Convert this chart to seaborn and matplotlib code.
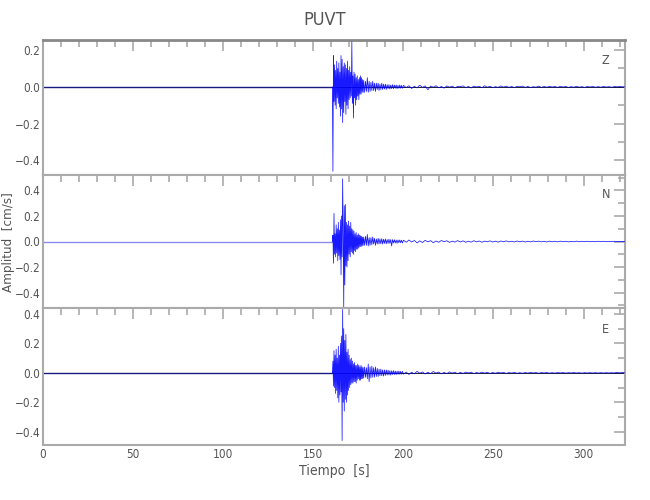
import numpy as np
import pandas as pd
import matplotlib
matplotlib.use("Agg")
import matplotlib.pyplot as plt
import seaborn as sns
from matplotlib.ticker import MultipleLocator

# ---------------- data ----------------
title = "PUVT"
channels = ["Z", "N", "E"]
x_label = "Tiempo  [s]"
y_label = "Amplitud  [cm/s]"

onset = 160.6            # s, first arrival
burst_step = 0.3         # s, spacing of the read peaks during the burst
mid_start, mid_step = 178.0, 0.5
coda_start, coda_step = 200.1, 1.5
t_end = 323.0

z_burst = [0.0, -0.46, 0.17, -0.08, 0.12, -0.10, 0.09, -0.12, 0.14, -0.06,
           0.10, -0.09, 0.13, -0.11, 0.08, -0.16, 0.17, -0.12, 0.15, -0.195,
           0.11, -0.14, 0.13, -0.08, 0.12, -0.15, 0.10, -0.10, 0.14, -0.12,
           0.09, -0.07, 0.11, -0.06, 0.08, -0.05, 0.245, -0.09, 0.06, -0.17,
           0.08, -0.06, 0.07, -0.10, 0.05, -0.07, 0.06, -0.05, 0.04, -0.07,
           0.05, -0.04, 0.06, -0.04, 0.05, -0.03, 0.04, -0.03]
z_mid = [0.035, -0.03, 0.03, -0.025, 0.05, -0.03, 0.03, -0.025, 0.025, -0.02,
         0.03, -0.02, 0.02, -0.025, 0.02, -0.015, 0.02, -0.02, 0.015, -0.015,
         0.02, -0.015, 0.015, -0.012, 0.015, -0.015, 0.012, -0.01, 0.012, -0.012,
         0.01, -0.01, 0.012, -0.01, 0.01, -0.008, 0.01, -0.01, 0.008, -0.008,
         0.01, -0.008, 0.008, -0.008]
z_coda = [0.008, -0.004, 0.006, -0.009, 0.003, -0.006, 0.009, -0.003, 0.005, -0.016,
          0.004, -0.002, 0.006, -0.005, 0.002, -0.007, 0.005, -0.002, 0.004, -0.006,
          0.003, 0.001, 0.005, -0.004, 0.002, -0.006, 0.004, -0.001, 0.003, -0.005,
          0.006, -0.002, 0.003, -0.004, 0.001, -0.003, 0.005, -0.002, 0.004, -0.003,
          0.002, -0.004, 0.003, 0.000, 0.004, -0.003, 0.002, -0.004, 0.001, -0.002,
          0.004, -0.003, 0.002, -0.002, 0.003, -0.001, 0.002, -0.003, 0.003, -0.001,
          0.002, -0.003, 0.001, -0.002, 0.003, -0.002, 0.001, -0.003, 0.002, -0.001,
          0.002, -0.002, 0.001, -0.002, 0.002, -0.001, 0.001, -0.002, 0.001, -0.001,
          0.001, -0.001]

n_burst = [0.0, 0.05, -0.17, 0.22, -0.10, 0.06, -0.12, 0.13, -0.09, 0.10,
           -0.15, 0.15, -0.11, 0.09, -0.14, 0.17, -0.26, 0.20, -0.12, 0.49,
           0.05, -0.51, 0.28, -0.34, 0.29, -0.19, 0.15, -0.20, 0.13, -0.15,
           0.16, -0.10, 0.12, -0.12, 0.15, -0.08, 0.10, -0.09, 0.09, -0.10,
           0.08, -0.07, 0.06, -0.08, 0.07, -0.06, 0.05, -0.06, 0.06, -0.05,
           0.05, -0.04, 0.045, -0.04, 0.04, -0.035, 0.035, -0.03]
n_mid = [0.035, -0.03, 0.04, -0.03, 0.055, -0.035, 0.03, -0.03, 0.03, -0.025,
         0.035, -0.02, 0.025, -0.03, 0.02, -0.02, 0.025, -0.02, 0.02, -0.018,
         0.022, -0.02, 0.018, -0.015, 0.02, -0.018, 0.015, -0.015, 0.018, -0.015,
         0.015, -0.035, 0.015, -0.012, 0.014, -0.012, 0.012, -0.014, 0.012, -0.01,
         0.012, -0.01, 0.01, -0.012]
n_coda = [0.010, -0.006, 0.012, -0.004, 0.008, -0.011, 0.005, -0.008, 0.009, -0.003,
          0.007, -0.010, 0.004, -0.006, 0.008, -0.002, 0.006, -0.007, 0.003, -0.005,
          0.007, -0.004, 0.005, -0.006, 0.002, -0.005, 0.006, -0.003, 0.004, -0.006,
          0.003, -0.002, 0.005, -0.004, 0.003, -0.005, 0.004, -0.002, 0.005, -0.003,
          0.002, -0.004, 0.004, -0.002, 0.003, -0.004, 0.002, -0.003, 0.004, -0.001,
          0.003, -0.003, 0.002, -0.004, 0.003, -0.002, 0.002, -0.003, 0.003, -0.002,
          0.002, -0.003, 0.001, -0.002, 0.003, -0.002, 0.002, -0.001, 0.002, -0.002,
          0.001, -0.002, 0.002, -0.001, 0.002, -0.002, 0.001, -0.001, 0.002, -0.001,
          0.001, -0.001]

e_burst = [0.0, 0.08, -0.09, 0.15, -0.10, 0.12, -0.14, 0.16, -0.12, 0.10,
           -0.17, 0.18, -0.20, 0.12, -0.15, 0.20, -0.13, 0.25, -0.46, 0.43,
           -0.20, 0.30, -0.26, 0.22, -0.18, 0.26, -0.20, 0.14, -0.15, 0.16,
           -0.12, 0.12, -0.10, 0.09, -0.08, 0.10, -0.07, 0.08, -0.07, 0.06,
           -0.06, 0.07, -0.06, 0.05, -0.07, 0.05, -0.05, 0.06, -0.04, 0.05,
           -0.05, 0.04, -0.05, 0.05, -0.04, 0.04, -0.04, 0.035]
e_mid = [-0.035, 0.04, -0.03, 0.035, -0.04, 0.06, -0.06, 0.04, -0.035, 0.045,
         -0.03, 0.035, -0.03, 0.04, -0.025, 0.03, -0.025, 0.025, -0.02, 0.025,
         -0.02, 0.02, -0.022, 0.02, -0.018, 0.02, -0.015, 0.018, -0.015, 0.015,
         -0.016, 0.014, -0.012, 0.015, -0.012, 0.012, -0.012, 0.011, -0.01, 0.012,
         -0.01, 0.01, -0.01, 0.01]
e_coda = [-0.009, 0.005, -0.011, 0.004, -0.007, 0.010, -0.003, 0.006, -0.008, 0.004,
          -0.006, 0.009, -0.002, 0.005, -0.007, 0.003, -0.005, 0.006, -0.002, 0.004,
          -0.006, 0.003, -0.004, 0.005, -0.001, 0.004, -0.005, 0.002, -0.003, 0.005,
          -0.002, 0.003, -0.004, 0.002, -0.003, 0.004, -0.001, 0.003, -0.004, 0.002,
          -0.002, 0.003, -0.003, 0.001, -0.003, 0.002, -0.002, 0.003, -0.001, 0.002,
          -0.003, 0.002, -0.001, 0.002, -0.002, 0.001, -0.002, 0.002, -0.001, 0.002,
          -0.002, 0.001, -0.001, 0.002, -0.001, 0.001, -0.002, 0.001, -0.001, 0.001,
          -0.001, 0.001, -0.001, 0.001, -0.001, 0.001, -0.001, 0.001, -0.001, 0.001,
          -0.001, 0.001]

traces = {"Z": (z_burst, z_mid, z_coda),
          "N": (n_burst, n_mid, n_coda),
          "E": (e_burst, e_mid, e_coda)}

y_limits = {"Z": (-0.48, 0.255), "N": (-0.52, 0.52), "E": (-0.49, 0.44)}
y_ticks = {"Z": [-0.4, -0.2, 0.0, 0.2],
           "N": [-0.4, -0.2, 0.0, 0.2, 0.4],
           "E": [-0.4, -0.2, 0.0, 0.2, 0.4]}
x_ticks = [0, 50, 100, 150, 200, 250, 300]
x_limits = (0, 323)


def build(ch):
    burst, mid, coda = traces[ch]
    t = [0.0]
    a = [0.0]
    t += list(onset + burst_step * np.arange(len(burst)))
    a += burst
    t += list(mid_start + mid_step * np.arange(len(mid)))
    a += mid
    t += list(coda_start + coda_step * np.arange(len(coda)))
    a += coda
    t.append(t_end)
    a.append(0.0)
    return pd.DataFrame({"t": t, "amp": a})


# ---------------- style ----------------
sns.set_theme(style="white")
plt.rcParams["font.family"] = ["DejaVu Sans"]
plt.rcParams["font.stretch"] = "condensed"
plt.rcParams["axes.unicode_minus"] = True

spine_gray = "#aaaaaa"
text_gray = "#555555"
pre_colors = {"Z": "#1a1a80", "N": "#8a8aee", "E": "#1a1a80"}

fig = plt.figure(figsize=(6.5, 5.0), dpi=100)
left, width = 43 / 650, (625 - 43) / 650
panel_px = {"Z": (40, 175), "N": (175, 308), "E": (308, 445)}

for ch in channels:
    top, bot = panel_px[ch]
    ax = fig.add_axes([left, 1 - bot / 500, width, (bot - top) / 500])
    df = build(ch)
    pre = df.iloc[:2]
    post = df.iloc[1:]
    if ch != "N":
        ax.axhline(0, color="black", lw=0.6, zorder=1)
    sns.lineplot(data=pre, x="t", y="amp", ax=ax, color=pre_colors[ch],
                 lw=1.0, estimator=None, sort=False, zorder=2)
    sns.lineplot(data=post, x="t", y="amp", ax=ax, color="#0000ff",
                 lw=0.55, estimator=None, sort=False, zorder=3, alpha=0.9)
    ax.set_xlim(*x_limits)
    ax.set_ylim(*y_limits[ch])
    ax.set_yticks(y_ticks[ch])
    ax.set_yticklabels([f"{v:.1f}".replace("-", "\u2212") for v in y_ticks[ch]])
    ax.yaxis.set_minor_locator(MultipleLocator(0.1))
    ax.set_xticks(x_ticks)
    ax.xaxis.set_minor_locator(MultipleLocator(10))
    ax.tick_params(which="both", direction="in", top=True, right=True,
                   color=spine_gray, labelcolor=text_gray, labelsize=8.5,
                   width=1.2, pad=2)
    ax.tick_params(which="major", length=8)
    ax.tick_params(which="minor", length=5)
    for s in ax.spines.values():
        s.set_color(spine_gray)
        s.set_linewidth(1.5)
    if ch == "Z":
        ax.spines["top"].set_color("#888888")
        ax.spines["top"].set_linewidth(2)
    ax.set_ylabel("")
    if ch != "E":
        ax.set_xticklabels([])
        ax.set_xlabel("")
    else:
        ax.set_xticklabels([str(v) for v in x_ticks])
        ax.set_xlabel(x_label, color=text_gray, fontsize=10, labelpad=2)
    ax.text(0.967, 0.85 if ch != "E" else 0.84, ch, transform=ax.transAxes,
            ha="center", va="center", color=text_gray, fontsize=9)
    ax.set_facecolor("white")

fig.text(9 / 650, 1 - 242 / 500, y_label, rotation=90, ha="center",
         va="center", color=text_gray, fontsize=9.5)
fig.text(0.5, 1 - 20 / 500, title, ha="center", va="center",
         color=text_gray, fontsize=13)
fig.savefig("out.png", dpi=100, facecolor="white")
